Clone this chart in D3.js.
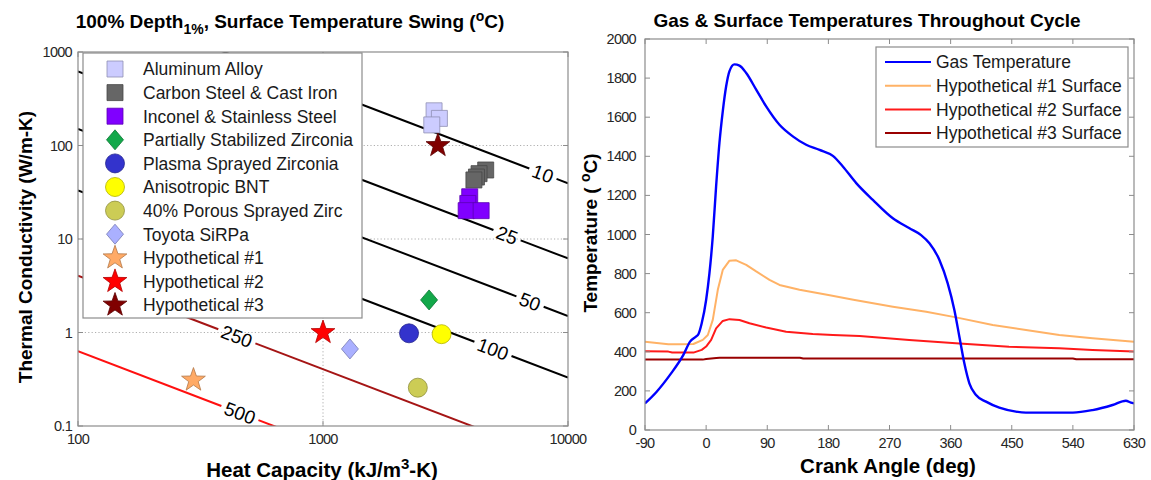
<!DOCTYPE html>
<html>
<head>
<meta charset="utf-8">
<script src="https://cdn.jsdelivr.net/npm/d3@7"></script>
<style>
  body { margin: 0; background: #fff; }
  text { font-family: "Liberation Sans", Arial, Helvetica, sans-serif; }
</style>
</head>
<body>
<svg id="chart" width="1151" height="480"></svg>
<script>
// ---------- Left panel: material properties ----------
const materialNames = [
  "Aluminum Alloy", "Carbon Steel & Cast Iron", "Inconel & Stainless Steel",
  "Partially Stabilized Zirconia", "Plasma Sprayed Zirconia", "Anisotropic BNT",
  "40% Porous Sprayed Zirc", "Toyota SiRPa", "Hypothetical #1", "Hypothetical #2", "Hypothetical #3"
];
const materialShapes = ["square", "square", "square", "diamond", "circle", "circle",
  "circle", "diamond", "star", "star", "star"];
// heat capacity (kJ/m^3-K) for each sample of each material
const heatCapacity = [
  [2840, 2986, 2780],
  [4614, 4335, 4230, 4130],
  [3970, 3900, 3840, 4420],
  [2710],
  [2245],
  [3048],
  [2438],
  [1288],
  [296],
  [1000],
  [2945]
];
// thermal conductivity (W/m-K) for each sample of each material
const conductivity = [
  [235, 195, 166],
  [54.7, 50, 46, 42.8],
  [28.3, 24, 20.1, 20.1],
  [2.23],
  [0.98],
  [0.96],
  [0.257],
  [0.667],
  [0.31],
  [1.0],
  [100]
];
const materialColors = ["#ccccff", "#666666", "#8000ff", "#13a84a", "#3333cc", "#ffff00",
  "#cccc55", "#aab0ff", "#ffaa66", "#ff0000", "#800000"];

// surface temperature swing contours: level (deg C) and constant product k*C
const swingLevels = [10, 25, 50, 100, 250, 500];
const swingProduct = [3.95e5, 6.2e4, 1.5e4, 3300, 405, 63];
const swingColors = ["#000", "#000", "#000", "#000", "#a51515", "#ff1010"];

const heatCapTicks = [100, 1000, 10000];
const condTicks = [0.1, 1, 10, 100, 1000];

// ---------- Right panel: temperatures through the cycle ----------
const gasAngle = [-90, -72.8, -53.2, -33.5, -23.7, -15, -11.4, -6.5, 0, 4.9, 9.8, 14.7, 19.6, 24.5, 29.5,
  34.4, 41.7, 49.1, 59, 73.7, 88.4, 108, 127.6, 147.3, 167, 186.6, 201.3, 221, 245.5, 274.9,
  299.4, 316.5, 328.8, 343.5, 355.7, 365.5, 372.9, 380.2, 387.6, 397.4, 412.1, 431.7, 456.2,
  470.9, 500.3, 540, 569, 598.5, 618, 625.4, 630];
const gasTemp = [136, 196, 282, 384, 452, 478, 490, 546, 665, 802, 990, 1246, 1468, 1630, 1758,
  1836, 1870, 1864, 1826, 1741, 1655, 1561, 1502, 1459, 1433, 1402, 1348, 1263, 1177, 1083,
  1032, 997, 955, 870, 750, 614, 477, 341, 239, 179, 145, 114, 94,
  89, 89, 89, 102, 128, 150, 140, 136];

const hyp1Angle = [-90, -55.6, -38.4, -18.7, -4.9, 2.5, 9.8, 17.2, 24.5, 34.4, 44.2, 59, 73.7, 93.3,
  108, 137.5, 180, 216.8, 275, 324, 368, 422, 471, 520, 569, 630];
const hyp1Temp = [452, 439, 439, 440, 461, 486, 563, 717, 819, 866, 868, 845, 811, 768,
  742, 717, 691, 666, 631, 605, 576, 537, 512, 486, 469, 452];

const hyp2Angle = [-90, -55.6, -50, -18.7, -6.5, 0, 7.4, 14.7, 24.5, 34.4, 49.1, 63.8, 88.4, 117.8,
  157, 186.6, 226, 299, 373, 446, 520, 569, 630];
const hyp2Temp = [403, 401, 396, 396, 410, 427, 461, 520, 558, 567, 563, 546, 524, 503,
  491, 486, 481, 460, 443, 426, 418, 409, 401];

const hyp3Angle = [-90, -5, 0, 15, 20, 138, 143, 540, 545, 630];
const hyp3Temp = [360, 360, 363, 368, 370, 370, 366, 366, 362, 362];

const cycleSeries = ["Gas Temperature", "Hypothetical #1 Surface", "Hypothetical #2 Surface", "Hypothetical #3 Surface"];
const cycleColors = ["#0000ff", "#ffb266", "#ff1a1a", "#990000"];
const angleTicks = [-90, 0, 90, 180, 270, 360, 450, 540, 630];
const tempTicks = [0, 200, 400, 600, 800, 1000, 1200, 1400, 1600, 1800, 2000];

// ---------- drawing ----------
const svg = d3.select("#chart");
svg.append("rect").attr("width", 1151).attr("height", 480).attr("fill", "#fff");
const axisGray = "#8c8c8c";
const tickText = "#262626";

function starPath(R) {
  const r = R * 0.4, pts = [];
  for (let i = 0; i < 10; i++) {
    const a = -Math.PI / 2 + i * Math.PI / 5, rr = i % 2 ? r : R;
    pts.push([rr * Math.cos(a), rr * Math.sin(a)]);
  }
  return "M" + pts.map(p => p.join(",")).join("L") + "Z";
}
function markerPath(shape) {
  if (shape === "square") return "M-8,-8H8V8H-8Z";
  if (shape === "diamond") return "M0,-10L8.5,0L0,10L-8.5,0Z";
  if (shape === "circle") return "M9.5,0A9.5,9.5 0 1,1 -9.5,0A9.5,9.5 0 1,1 9.5,0Z";
  return starPath(12.5);
}
function edgeColor(c) { return d3.color(c).darker(1.0).formatHex(); }

/* ----- Left panel ----- */
const L = { x0: 78, x1: 568, y0: 52, y1: 426 };
const xL = d3.scaleLog().domain([100, 10000]).range([L.x0, L.x1]);
const yL = d3.scaleLog().domain([0.1, 1000]).range([L.y1, L.y0]);
const left = svg.append("g");

left.append("clipPath").attr("id", "clipL").append("rect")
  .attr("x", L.x0).attr("y", L.y0).attr("width", L.x1 - L.x0).attr("height", L.y1 - L.y0);

// dotted decade grid
left.append("g").selectAll("line").data(condTicks.slice(1, -1)).join("line")
  .attr("x1", L.x0).attr("x2", L.x1).attr("y1", d => yL(d)).attr("y2", d => yL(d))
  .attr("stroke", "#9a9a9a").attr("stroke-width", 0.8).attr("stroke-dasharray", "1.2,2.2");
left.append("g").selectAll("line").data(heatCapTicks.slice(1, -1)).join("line")
  .attr("y1", L.y0).attr("y2", L.y1).attr("x1", d => xL(d)).attr("x2", d => xL(d))
  .attr("stroke", "#9a9a9a").attr("stroke-width", 0.8).attr("stroke-dasharray", "1.2,2.2");

// contour lines of equal temperature swing, broken where labelled
const labelAtHeatCap = [7900, 5640, 7000, 4940, 445, 458];
const contourG = left.append("g").attr("clip-path", "url(#clipL)");
swingLevels.forEach((lvl, i) => {
  const kc = swingProduct[i];
  const p0 = [xL(100), yL(kc / 100)], p1 = [xL(10000), yL(kc / 10000)];
  const len = Math.hypot(p1[0] - p0[0], p1[1] - p0[1]);
  const u = [(p1[0] - p0[0]) / len, (p1[1] - p0[1]) / len];
  const c = labelAtHeatCap[i];
  const pc = [xL(c), yL(kc / c)];
  const ang = Math.atan2(u[1], u[0]) * 180 / Math.PI;
  const t = left.append("text").text(String(lvl))
    .attr("transform", `translate(${pc[0]},${pc[1]}) rotate(${ang})`)
    .attr("text-anchor", "middle").attr("dy", "0.36em")
    .attr("font-size", 19).attr("fill", "#000");
  const gap = t.node().getComputedTextLength() / 2 + 4;
  const a = [pc[0] - u[0] * gap, pc[1] - u[1] * gap];
  const b = [pc[0] + u[0] * gap, pc[1] + u[1] * gap];
  [[p0, a], [b, p1]].forEach(([s, e]) => {
    contourG.append("line").attr("x1", s[0]).attr("y1", s[1]).attr("x2", e[0]).attr("y2", e[1])
      .attr("stroke", swingColors[i]).attr("stroke-width", 2);
  });
});

// material markers
materialNames.forEach((name, i) => {
  const pts = heatCapacity[i].map((c, j) => [c, conductivity[i][j]]);
  left.append("g").selectAll("path").data(pts).join("path")
    .attr("d", markerPath(materialShapes[i]))
    .attr("transform", d => `translate(${xL(d[0])},${yL(d[1])})`)
    .attr("fill", materialColors[i]).attr("stroke", edgeColor(materialColors[i]))
    .attr("stroke-width", 0.8);
});

// axis frame, ticks and labels
left.append("rect").attr("x", L.x0).attr("y", L.y0).attr("width", L.x1 - L.x0).attr("height", L.y1 - L.y0)
  .attr("fill", "none").attr("stroke", axisGray).attr("stroke-width", 1.2);
heatCapTicks.forEach(v => {
  left.append("line").attr("x1", xL(v)).attr("x2", xL(v)).attr("y1", L.y1).attr("y2", L.y1 - 5).attr("stroke", axisGray);
  left.append("line").attr("x1", xL(v)).attr("x2", xL(v)).attr("y1", L.y0).attr("y2", L.y0 + 5).attr("stroke", axisGray);
  left.append("text").attr("x", xL(v)).attr("y", L.y1 + 18).attr("text-anchor", "middle")
    .attr("font-size", 14.5).attr("letter-spacing", -0.7).attr("fill", tickText).text(v);
});
condTicks.forEach(v => {
  left.append("line").attr("x1", L.x0).attr("x2", L.x0 + 5).attr("y1", yL(v)).attr("y2", yL(v)).attr("stroke", axisGray);
  left.append("line").attr("x1", L.x1).attr("x2", L.x1 - 5).attr("y1", yL(v)).attr("y2", yL(v)).attr("stroke", axisGray);
  left.append("text").attr("x", L.x0 - 6).attr("y", yL(v)).attr("dy", "0.35em").attr("text-anchor", "end")
    .attr("font-size", 14.5).attr("letter-spacing", -0.7).attr("fill", tickText).text(v);
});

// legend
const lg = left.append("g");
lg.append("rect").attr("x", 83).attr("y", 53).attr("width", 279).attr("height", 265)
  .attr("fill", "#fff").attr("stroke", axisGray).attr("stroke-width", 1.2);
materialNames.forEach((name, i) => {
  const yy = 69 + i * 23.6;
  lg.append("path").attr("d", markerPath(materialShapes[i]))
    .attr("transform", `translate(115,${yy})`)
    .attr("fill", materialColors[i]).attr("stroke", edgeColor(materialColors[i])).attr("stroke-width", 0.8);
  lg.append("text").attr("x", 143).attr("y", yy).attr("dy", "0.36em")
    .attr("font-size", 17.5).attr("fill", "#1a1a1a").text(name);
});

// titles
const tL = left.append("text").attr("x", 290).attr("y", 28).attr("text-anchor", "middle")
  .attr("font-size", 19).attr("font-weight", "bold").attr("fill", "#000");
tL.append("tspan").text("100% Depth");
tL.append("tspan").attr("dy", 6).attr("font-size", 14).text("1%");
tL.append("tspan").attr("dy", -6).text(", Surface Temperature Swing (");
tL.append("tspan").attr("dy", -7).attr("font-size", 14).text("o");
tL.append("tspan").attr("dy", 7).text("C)");

const xlL = left.append("text").attr("x", 322).attr("y", 477).attr("text-anchor", "middle")
  .attr("font-size", 20.5).attr("font-weight", "bold").attr("fill", "#000");
xlL.append("tspan").text("Heat Capacity (kJ/m");
xlL.append("tspan").attr("dy", -8).attr("font-size", 15).text("3");
xlL.append("tspan").attr("dy", 8).text("-K)");

left.append("text").attr("transform", "translate(32,247) rotate(-90)").attr("text-anchor", "middle")
  .attr("font-size", 19).attr("font-weight", "bold").attr("fill", "#000")
  .text("Thermal Conductivity (W/m-K)");

/* ----- Right panel ----- */
const R = { x0: 645, x1: 1134, y0: 39, y1: 430 };
const xR = d3.scaleLinear().domain([-90, 630]).range([R.x0, R.x1]);
const yR = d3.scaleLinear().domain([0, 2000]).range([R.y1, R.y0]);
const right = svg.append("g");
right.append("clipPath").attr("id", "clipR").append("rect")
  .attr("x", R.x0).attr("y", R.y0).attr("width", R.x1 - R.x0).attr("height", R.y1 - R.y0);

const line = d3.line().x(d => xR(d[0])).y(d => yR(d[1]));
const series = [
  gasAngle.map((a, i) => [a, gasTemp[i]]),
  hyp1Angle.map((a, i) => [a, hyp1Temp[i]]),
  hyp2Angle.map((a, i) => [a, hyp2Temp[i]]),
  hyp3Angle.map((a, i) => [a, hyp3Temp[i]])
];
const lines = right.append("g").attr("clip-path", "url(#clipR)");
[3, 2, 1, 0].forEach(i => {
  lines.append("path").attr("d", line.curve(i === 0 ? d3.curveMonotoneX : d3.curveLinear)(series[i]))
    .attr("fill", "none").attr("stroke", cycleColors[i]).attr("stroke-width", i === 0 ? 2.4 : 2)
    .attr("stroke-linejoin", "round");
});

right.append("rect").attr("x", R.x0).attr("y", R.y0).attr("width", R.x1 - R.x0).attr("height", R.y1 - R.y0)
  .attr("fill", "none").attr("stroke", axisGray).attr("stroke-width", 1.2);
angleTicks.forEach(v => {
  right.append("line").attr("x1", xR(v)).attr("x2", xR(v)).attr("y1", R.y1).attr("y2", R.y1 - 5).attr("stroke", axisGray);
  right.append("line").attr("x1", xR(v)).attr("x2", xR(v)).attr("y1", R.y0).attr("y2", R.y0 + 5).attr("stroke", axisGray);
  right.append("text").attr("x", xR(v)).attr("y", R.y1 + 18).attr("text-anchor", "middle")
    .attr("font-size", 14.5).attr("letter-spacing", -0.7).attr("fill", tickText).text(v);
});
tempTicks.forEach(v => {
  right.append("line").attr("x1", R.x0).attr("x2", R.x0 + 5).attr("y1", yR(v)).attr("y2", yR(v)).attr("stroke", axisGray);
  right.append("line").attr("x1", R.x1).attr("x2", R.x1 - 5).attr("y1", yR(v)).attr("y2", yR(v)).attr("stroke", axisGray);
  right.append("text").attr("x", R.x0 - 9).attr("y", yR(v)).attr("dy", "0.35em").attr("text-anchor", "end")
    .attr("font-size", 14.5).attr("letter-spacing", -0.7).attr("fill", tickText).text(v);
});

// legend
const lgR = right.append("g");
lgR.append("rect").attr("x", 876).attr("y", 47).attr("width", 252).attr("height", 100)
  .attr("fill", "#fff").attr("stroke", axisGray).attr("stroke-width", 1.2);
cycleSeries.forEach((name, i) => {
  const yy = 62 + i * 23.7;
  lgR.append("line").attr("x1", 885).attr("x2", 931).attr("y1", yy).attr("y2", yy)
    .attr("stroke", cycleColors[i]).attr("stroke-width", 2);
  lgR.append("text").attr("x", 936).attr("y", yy).attr("dy", "0.36em")
    .attr("font-size", 17.5).attr("fill", "#1a1a1a").text(name);
});

right.append("text").attr("x", 867).attr("y", 27).attr("text-anchor", "middle")
  .attr("font-size", 19).attr("font-weight", "bold").attr("fill", "#000")
  .text("Gas & Surface Temperatures Throughout Cycle");
right.append("text").attr("x", 888).attr("y", 473).attr("text-anchor", "middle")
  .attr("font-size", 20.5).attr("font-weight", "bold").attr("fill", "#000")
  .text("Crank Angle (deg)");
const ylR = right.append("text").attr("transform", "translate(597,233) rotate(-90)").attr("text-anchor", "middle")
  .attr("font-size", 19).attr("font-weight", "bold").attr("fill", "#000");
ylR.append("tspan").text("Temperature ( ");
ylR.append("tspan").attr("dy", -7).attr("font-size", 14).text("o");
ylR.append("tspan").attr("dy", 7).text("C)");
</script>
</body>
</html>
